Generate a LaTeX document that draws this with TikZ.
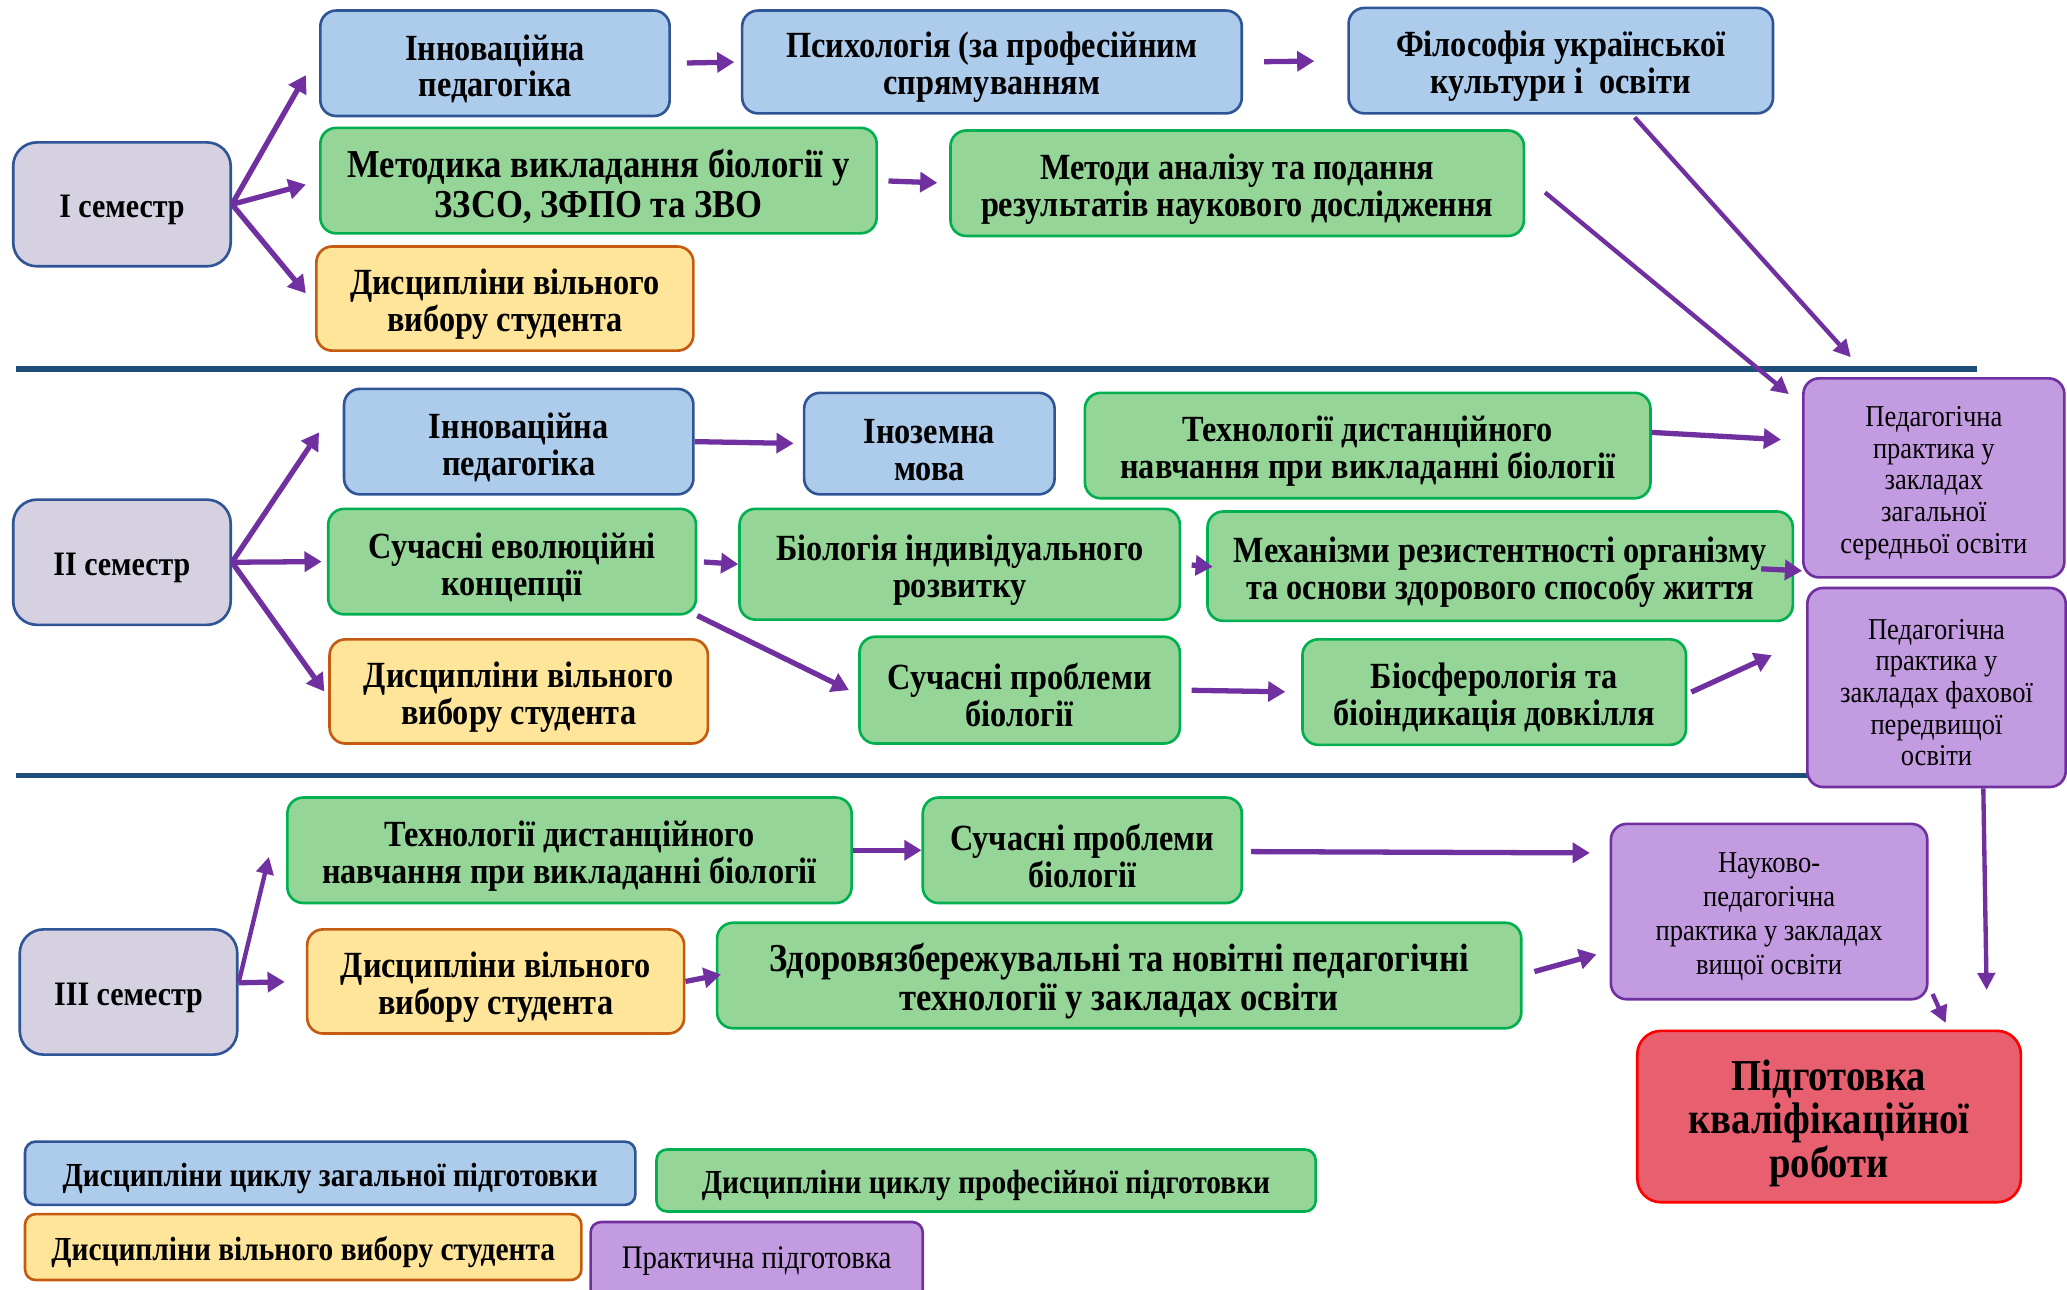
\documentclass[tikz,border=0pt]{standalone}
\usepackage{fontspec}
\setmainfont{Liberation Serif}[FakeStretch=0.875]
\usetikzlibrary{arrows.meta,calc}
\newcommand{\tstr}{\rule{0pt}{1em}}
\definecolor{bfill}{HTML}{ADCBEA}
\definecolor{bdraw}{HTML}{2F5597}
\definecolor{gfill}{HTML}{95D597}
\definecolor{gdraw}{HTML}{00B050}
\definecolor{yfill}{HTML}{FFE599}
\definecolor{ydraw}{HTML}{C55A11}
\definecolor{pfill}{HTML}{C39BE0}
\definecolor{pdraw}{HTML}{7030A0}
\definecolor{sfill}{HTML}{D5D1E0}
\definecolor{rfill}{HTML}{E8606F}
\definecolor{rdraw}{HTML}{FF0000}
\definecolor{arrc}{HTML}{7030A0}
\definecolor{sepc}{HTML}{1F4E79}
\begin{document}
\begin{tikzpicture}[x=1pt,y=-1pt,
 box/.style={rectangle, rounded corners=12pt, line width=2pt, align=center, inner sep=0pt, font=\fontsize{28}{28}\selectfont\bfseries},
 bluebox/.style={box, fill=bfill, draw=bdraw},
 greenbox/.style={box, fill=gfill, draw=gdraw},
 yellowbox/.style={box, fill=yfill, draw=ydraw},
 purplebox/.style={box, fill=pfill, draw=pdraw, font=\fontsize{23}{24}\selectfont},
 redbox/.style={box, fill=rfill, draw=rdraw, rounded corners=18pt, font=\fontsize{33.5}{33}\selectfont\bfseries},
 semnode/.style={box, fill=sfill, draw=bdraw, rounded corners=18pt, font=\fontsize{26}{26}\selectfont\bfseries},
 bigtext/.style={font=\fontsize{30}{30}\selectfont\bfseries},
 legendb/.style={rounded corners=8pt, font=\fontsize{25.5}{26}\selectfont\bfseries},
 legendr/.style={rounded corners=8pt, font=\fontsize{25}{25}\selectfont},
 arr/.style={draw=arrc, line width=4pt, -{Triangle[length=13pt,width=15pt]}},
 arrthin/.style={draw=arrc, line width=3.3pt, -{Triangle[length=13pt,width=13pt]}},
 sep/.style={draw=sepc, line width=4pt}
]
\useasboundingbox (0,0) rectangle (1568,978);
\fill[white] (0,0) rectangle (1568,978);

% separators
\draw[sep] (12,280) -- (1500,280);
\draw[sep] (12,588) -- (1375,588);

% Row I
\node[semnode, minimum width=165, minimum height=94] (s1) at (92.5,155) {\tstr I семестр};
\node[bluebox, minimum width=265, minimum height=80] (inn1) at (375.5,48) {\tstr Інноваційна\\педагогіка};
\node[bluebox, minimum width=379, minimum height=78] (psy) at (752.5,47) {\tstr Психологія (за професійним\\спрямуванням};
\node[bluebox, minimum width=322, minimum height=80] (fil) at (1184,46) {\tstr Філософія української\\культури і\ \ освіти};
\node[greenbox, bigtext, minimum width=422, minimum height=80] (met) at (454,137) {\tstr Методика викладання біології у\\ЗЗСО, ЗФПО та ЗВО};
\node[greenbox, minimum width=435, minimum height=80] (mar) at (938.5,139) {\tstr Методи аналізу та подання\\результатів наукового дослідження};
\node[yellowbox, minimum width=286, minimum height=79] (dvv1) at (383,226.5) {\tstr Дисципліни вільного\\вибору студента};

% Row II
\node[semnode, minimum width=165, minimum height=95] (s2) at (92.5,426.5) {\tstr II семестр};
\node[bluebox, minimum width=265, minimum height=80] (inn2) at (393.5,335) {\tstr Інноваційна\\педагогіка};
\node[bluebox, minimum width=190, minimum height=77] (ino) at (705,336.5) {\tstr Іноземна\\мова};
\node[greenbox, minimum width=429, minimum height=80] (tech2) at (1037.5,338) {\tstr Технології дистанційного\\навчання при викладанні біології};
\node[greenbox, minimum width=279, minimum height=80] (evo) at (388.5,426) {\tstr Сучасні еволюційні\\концепції};
\node[greenbox, minimum width=334, minimum height=84] (bio) at (728,428) {\tstr Біологія індивідуального\\розвитку};
\node[greenbox, minimum width=444, minimum height=83] (mech) at (1138,429.5) {\tstr Механізми резистентності організму\\та основи здорового способу життя};
\node[yellowbox, minimum width=287, minimum height=79] (dvv2) at (393.5,524.5) {\tstr Дисципліни вільного\\вибору студента};
\node[greenbox, minimum width=243, minimum height=81] (sp2) at (773.5,523.5) {\tstr Сучасні проблеми\\біології};
\node[greenbox, minimum width=291, minimum height=80] (bios) at (1133.5,525) {\tstr Біосферологія та\\біоіндикація довкілля};
\node[purplebox, minimum width=198, minimum height=151] (pp1) at (1467,362.5) {\tstr Педагогічна\\практика у\\закладах\\загальної\\середньої освіти};
\node[purplebox, minimum width=196, minimum height=151] (pp2) at (1469,521.5) {\tstr Педагогічна\\практика у\\закладах фахової\\передвищої\\освіти};

% Row III
\node[semnode, minimum width=165, minimum height=95] (s3) at (97.5,752.5) {\tstr III семестр};
\node[greenbox, minimum width=428, minimum height=80] (tech3) at (432,645) {\tstr Технології дистанційного\\навчання при викладанні біології};
\node[greenbox, minimum width=242, minimum height=80] (sp3) at (821,645) {\tstr Сучасні проблеми\\біології};
\node[yellowbox, minimum width=286, minimum height=79] (dvv3) at (376,744.5) {\tstr Дисципліни вільного\\вибору студента};
\node[greenbox, bigtext, minimum width=610, minimum height=80] (zd) at (849,740) {\tstr Здоровязбережувальні та новітні педагогічні\\технології у закладах освіти};
\node[purplebox, minimum width=240, minimum height=133, font=\fontsize{23}{26}\selectfont] (nauk) at (1342,691.5) {\tstr Науково-\\педагогічна\\практика у закладах\\вищої освіти};
\node[redbox, minimum width=291, minimum height=130] (podg) at (1387.5,847) {\tstr Підготовка\\кваліфікаційної\\роботи};

% Legend
\node[bluebox, legendb, minimum width=463, minimum height=48] (lg1) at (250.5,890) {\tstr Дисципліни циклу загальної підготовки};
\node[greenbox, legendb, minimum width=500, minimum height=47] (lg2) at (748,895.5) {\tstr Дисципліни циклу професійної підготовки};
\node[yellowbox, legendb, minimum width=422, minimum height=50] (lg3) at (230,946) {\tstr Дисципліни вільного вибору студента};
\node[purplebox, legendr, minimum width=252, minimum height=60] (lg4) at (574,957) {Практична підготовка};

% Arrows row I
\draw[arr] (s1.east) -- ($(inn1.west)+(-10,9)$);
\draw[arr] (s1.east) -- ($(met.west)+(-10,3)$);
\draw[arr] (s1.east) -- ($(dvv1.west)+(-7,-4)$);
\draw[arr, shorten <=12pt, shorten >=5pt] (inn1.east) -- (psy.west);
\draw[arr, shorten <=16pt, shorten >=25pt] (psy.east) -- (fil.west);
\draw[arr, shorten <=8pt, shorten >=9pt] (met.east) -- (mar.west);
\draw[arrthin] ($(fil.south)+(56,2)$) -- ($(pp1.north west)+(37,-15)$);
\draw[arrthin] ($(mar.east)+(15,7)$) -- ($(pp1.north west)+(-10,13)$);

% Arrows row II
\draw[arr] (s2.east) -- ($(inn2.west)+(-18,-7)$);
\draw[arr, shorten >=4pt] (s2.east) -- (evo.west);
\draw[arr] (s2.east) -- ($(dvv2.west)+(-3,0)$);
\draw[arr, shorten >=7pt] (inn2.east) -- (ino.west);
\draw[arr] ($(tech2.east)+(0,-10)$) -- ($(pp1.west)+(-16,-29)$);
\draw[arr, shorten <=5pt] (evo.east) -- (bio.west);
\draw[arr, shorten <=8pt, shorten >=-5pt] (bio.east) -- (mech.west);
\draw[arr] ($(mech.east)+(-25,2)$) -- ($(pp1.south west)+(0,-6)$);
\draw[arr] (evo.south east) -- ($(sp2.west)+(-7,0)$);
\draw[arr, shorten <=8pt, shorten >=12pt] (sp2.east) -- (bios.west);
\draw[arr] ($(bios.east)+(3,0)$) -- ($(pp2.west)+(-26,-24.5)$);

% Arrows row III
\draw[arrthin] ($(s3.east)+(0,-7)$) -- ($(tech3.west)+(-13,5)$);
\draw[arr, shorten >=16pt] ($(s3.east)+(0,-7)$) -- ($(dvv3.west)+(0,0)$);
\draw[arr] (tech3.east) -- (sp3.west);
\draw[arr] ($(sp3.east)+(6,1)$) -- ($(nauk.north west)+(-15,23)$);
\draw[arr, shorten >=-4pt] (dvv3.east) -- (zd.west);
\draw[arr] ($(zd.east)+(9,-3)$) -- ($(nauk.west)+(-10,32.5)$);
\draw[arrthin] ($(pp2.south)+(35.5,0)$) -- ($(podg.north east)+(-27,-30)$);
\draw[arrthin] ($(nauk.south east)+(3,-5)$) -- ($(podg.north)+(88.5,-5)$);
\end{tikzpicture}
\end{document}
